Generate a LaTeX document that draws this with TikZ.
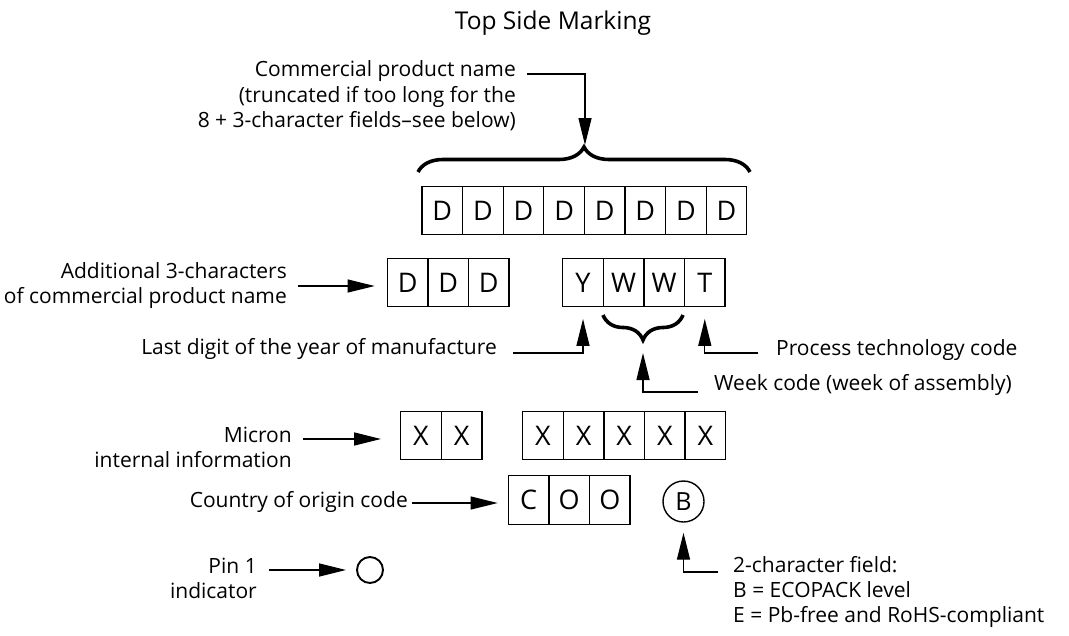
\documentclass[tikz,border=0pt]{standalone}
\usepackage{fontspec}
\setmainfont{Open Sans}
\usetikzlibrary{arrows.meta,decorations.pathreplacing,calc}
\begin{document}
\begin{tikzpicture}[x=1pt,y=-1pt,
  cell/.style={draw,line width=1.3pt,minimum width=40.6pt,minimum height=48.5pt,inner sep=0pt,font=\fontsize{27}{27}\selectfont},
  lbl/.style={inner sep=0pt,font=\fontsize{21}{25}\selectfont},
  conn/.style={line width=1.3pt},
  arr/.style={conn,-{Triangle[length=27pt,width=13pt]}},
  bigbrace/.style={decorate,decoration={brace,amplitude=25pt},line width=3.6pt},
  ring/.style={draw,circle,inner sep=0pt}
]
\useasboundingbox (0,0) rectangle (1069,635);

% title
\node[lbl,anchor=base,font=\fontsize{24.5}{25}\selectfont] (title) at (553,29) {Top Side Marking};

% 8 D cells
\foreach \i in {1,...,8} \node[cell] (d\i) at ({442.3+40.6*(\i-1)},210.5) {D};
% 3 D cells
\foreach \i in {1,2,3} \node[cell] (e\i) at ({407.6+40.6*(\i-1)},282.5) {D};
% Y W W T
\node[cell] (y1) at (583.0,282.5) {Y};
\node[cell] (w1) at (623.6,282.5) {W};
\node[cell] (w2) at (664.2,282.5) {W};
\node[cell] (t1) at (704.8,282.5) {T};
% X X
\foreach \i in {1,2} \node[cell] (x\i) at ({421.0+40.6*(\i-1)},435.5) {X};
% X X X X X
\foreach \i in {1,...,5} \node[cell] (z\i) at ({543.0+40.6*(\i-1)},435.5) {X};
% C O O
\node[cell] (co1) at (528.6,500) {C};
\node[cell] (co2) at (569.2,500) {O};
\node[cell] (co3) at (609.8,500) {O};
% B circle
\node[ring,line width=1.4pt,minimum size=41pt,font=\fontsize{25}{25}\selectfont] (bc) at (683.5,501.5) {B};
% pin 1 circle
\node[ring,line width=1.9pt,minimum size=26pt] (pin) at (370,570) {};

% labels
\node[lbl,anchor=east,align=right,font=\fontsize{21}{25.5}\selectfont] (cpn) at (516,96)
  {Commercial product name\\(truncated if too long for the\\8 + 3-character fields–see below)};
\node[lbl,anchor=east,align=right] (add) at (287,286) {Additional 3-characters\\of commercial product name};
\node[lbl,anchor=base east] (last) at (497,354) {Last digit of the year of manufacture};
\node[lbl,anchor=base west] (proc) at (776,355) {Process technology code};
\node[lbl,anchor=base west] (week) at (714,390) {Week code (week of assembly)};
\node[lbl,anchor=east,align=right] (mic) at (292,447) {Micron\\internal information};
\node[lbl,anchor=base east] (coo) at (408,507) {Country of origin code};
\node[lbl,anchor=east,align=right] (pinl) at (257,578) {Pin 1\\indicator};
\node[lbl,anchor=west,align=left] (eco) at (733,592) {2-character field:\\B = ECOPACK level\\E = Pb-free and RoHS-compliant};

% braces
\coordinate (bl) at (418,172);
\coordinate (br) at (750,172);
\draw[bigbrace] (bl) -- (br);
\coordinate (wl) at (603,315);
\coordinate (wr) at (683,315);
\draw[bigbrace] (wr) -- (wl);

% connectors
\coordinate (c1) at (527,74);
\coordinate (tb) at (585,145);
\draw[arr] (c1) -| (tb);

\coordinate (c2) at (298,286);
\draw[arr,shorten >=12pt] (c2) -- (c2 -| e1.west);

\coordinate (c3) at (513,353);
\draw[arr,shorten >=11.5pt] (c3) -| (y1.south);

\coordinate (c4) at (758,353);
\draw[arr,shorten >=11.5pt] (c4) -| (t1.south);

\coordinate (c5) at (698,392);
\coordinate (wt) at (643,341);
\draw[arr,shorten >=12pt] (c5) -| (wt);

\coordinate (c6) at (303,439);
\draw[arr,shorten >=19pt] (c6) -- (c6 -| x1.west);

\coordinate (c7) at (412,503);
\draw[arr,shorten >=10pt] (c7) -- (c7 -| co1.west);

\coordinate (c8) at (718,572);
\draw[arr,shorten >=10pt] (c8) -| (bc.south);

\coordinate (c9) at (269,570);
\draw[arr,shorten >=10pt] (c9) -- (pin.west);
\end{tikzpicture}
\end{document}
